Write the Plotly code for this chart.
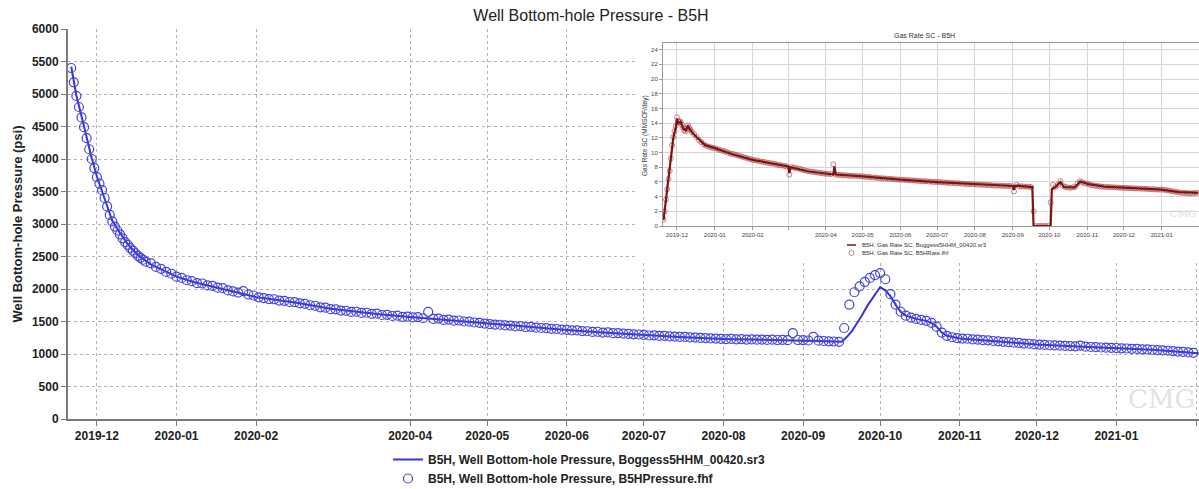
import pandas as pd
import plotly.graph_objects as go

# ---------------- DATA ----------------
# Observed well bottom-hole pressure (psi): daily from 2019-11-21, then every 2 days from 2019-12-22
bhp_obs_daily_start = "2019-11-21"
bhp_obs_daily = [5400, 5180, 4970, 4800, 4640, 4490, 4320, 4150, 4000, 3860,
                 3720, 3620, 3520, 3400, 3270, 3140, 3040, 2960, 2900, 2840,
                 2780, 2720, 2680, 2630, 2590, 2550, 2510, 2480, 2450, 2420]
bhp_obs_2d_start = "2019-12-22"
bhp_obs_2d = [
    2395, 2340, 2310, 2262, 2235,                                                      # Dec 2019
    2190, 2170, 2135, 2120, 2090, 2085, 2055, 2048, 2020, 2012, 1978, 1962, 1945, 1968, 1915, 1900,  # Jan
    1872, 1860, 1845, 1842, 1822, 1818, 1800, 1798, 1780, 1772, 1750, 1742, 1718, 1712,  # Feb
    1690, 1688, 1668, 1665, 1648, 1650, 1632, 1635, 1618, 1620, 1600, 1602, 1585, 1590, 1572, 1575,  # Mar
    1562, 1568, 1550, 1648, 1540, 1545, 1525, 1530, 1512, 1515, 1500, 1498, 1485, 1480, 1468,  # Apr
    1460, 1452, 1450, 1440, 1438, 1425, 1428, 1415, 1418, 1405, 1400, 1398, 1388, 1385, 1375,  # May
    1372, 1362, 1362, 1352, 1350, 1340, 1342, 1330, 1332, 1320, 1322, 1312, 1310, 1302, 1300,  # Jun
    1295, 1285, 1288, 1278, 1280, 1270, 1268, 1262, 1262, 1255, 1252, 1248, 1245, 1240, 1238, 1233,  # Jul
    1230, 1232, 1226, 1228, 1222, 1225, 1220, 1222, 1216, 1220, 1215, 1218, 1212, 1320, 1215,  # Aug
    1212, 1208, 1262, 1205, 1200, 1195, 1192, 1188, 1400, 1760, 1950, 2040, 2110, 2170, 2215,  # Sep
    2245, 2150, 1920, 1760, 1650, 1590, 1560, 1540, 1525, 1510, 1480, 1420, 1330, 1280, 1258, 1245,  # Oct
    1238, 1235, 1225, 1222, 1212, 1210, 1200, 1195, 1188, 1182, 1175, 1170, 1160, 1158, 1148,  # Nov
    1145, 1140, 1135, 1132, 1128, 1125, 1120, 1118, 1130, 1112, 1108, 1105, 1100, 1098, 1095,  # Dec
    1092, 1088, 1085, 1080, 1078, 1072, 1070, 1065, 1060, 1055, 1050, 1045, 1038, 1032, 1025, 1018,  # Jan 2021
]

# Simulated well bottom-hole pressure (psi)
bhp_sim_dates = [
    "2019-11-21", "2019-11-23", "2019-11-25", "2019-11-27", "2019-11-29", "2019-12-01",
    "2019-12-03", "2019-12-05", "2019-12-07", "2019-12-09", "2019-12-11", "2019-12-13",
    "2019-12-15", "2019-12-18", "2019-12-22", "2019-12-27", "2020-01-01", "2020-01-08",
    "2020-01-15", "2020-01-22", "2020-02-01", "2020-02-10", "2020-02-18", "2020-03-01",
    "2020-03-10", "2020-03-20", "2020-04-01", "2020-04-15", "2020-05-01", "2020-05-15",
    "2020-06-01", "2020-06-15", "2020-07-01", "2020-07-15", "2020-08-01", "2020-08-15",
    "2020-09-01", "2020-09-10", "2020-09-16", "2020-09-18", "2020-09-20", "2020-09-22",
    "2020-09-24", "2020-09-26", "2020-09-28", "2020-09-30", "2020-10-01", "2020-10-03",
    "2020-10-05", "2020-10-07", "2020-10-09", "2020-10-11", "2020-10-15", "2020-10-19",
    "2020-10-21", "2020-10-23", "2020-10-25", "2020-10-27", "2020-11-01", "2020-11-15",
    "2020-12-01", "2020-12-15", "2021-01-01", "2021-01-15", "2021-02-02"]
bhp_sim = [
    5420, 4980, 4660, 4330, 4010, 3730,
    3510, 3270, 3050, 2920, 2800, 2690,
    2600, 2490, 2380, 2280, 2190, 2105,
    2040, 1968, 1875, 1826, 1782, 1695,
    1650, 1610, 1570, 1525, 1462, 1422,
    1370, 1332, 1293, 1262, 1232, 1222,
    1212, 1198, 1188, 1260, 1350, 1470,
    1600, 1740, 1860, 1980, 2030, 1980,
    1890, 1760, 1650, 1590, 1540, 1510,
    1480, 1420, 1330, 1280, 1238, 1198,
    1145, 1120, 1090, 1065, 1012]

# Observed gas rate SC (MMSCF/day): daily from 2019-11-20, then every 2 days from 2019-12-15
gas_obs_daily_start = "2019-11-20"
gas_obs_daily = [0.9, 2.0, 3.6, 5.0, 6.4, 7.5, 9.2, 11.0, 12.1, 12.9, 13.6, 14.8,
                 14.3, 14.1, 14.2, 13.8, 13.4, 13.0, 12.9, 13.3, 13.7, 13.4, 13.1, 12.8]
gas_obs_2d_start = "2019-12-15"
gas_obs_2d = [
    12.5, 12.1, 11.7, 11.4, 11.1, 10.9, 10.8, 10.7, 10.6,                                   # Dec 2019
    10.55, 10.4, 10.3, 10.2, 10.1, 9.95, 9.85, 9.8, 9.7, 9.6, 9.5, 9.4, 9.3, 9.2, 9.1,        # Jan
    9.0, 8.95, 8.9, 8.8, 8.75, 8.7, 8.6, 8.55, 8.5, 8.45, 8.35, 8.3, 8.25, 8.15, 8.1,          # Feb
    7.0, 8.0, 7.95, 7.85, 7.8, 7.7, 7.6, 7.5, 7.45, 7.4, 7.35, 7.3, 7.25, 7.2, 7.15,           # Mar
    7.1, 7.1, 7.05, 8.4, 7.0, 6.95, 6.95, 6.9, 6.9, 6.85, 6.85, 6.85, 6.8, 6.8, 6.75,         # Apr
    6.75, 6.7, 6.7, 6.65, 6.6, 6.6, 6.55, 6.5, 6.5, 6.45, 6.45, 6.4, 6.4, 6.35, 6.35, 6.3,    # May
    6.3, 6.3, 6.25, 6.25, 6.2, 6.2, 6.15, 6.15, 6.1, 6.1, 6.1, 6.05, 6.05, 6.0, 6.0,          # Jun
    6.0, 5.95, 5.95, 5.9, 5.9, 5.85, 5.85, 5.8, 5.8, 5.8, 5.75, 5.75, 5.7, 5.7, 5.7,          # Jul
    5.68, 5.65, 5.65, 5.6, 5.6, 5.58, 5.55, 5.55, 5.5, 5.5, 5.5, 5.48, 5.45, 5.45, 5.45, 5.42,  # Aug
    4.7, 5.6, 5.4, 5.4, 5.38, 5.35, 5.35, 5.3, 2.0, 0.0, 0.0, 0.0, 0.0, 0.0, 0.0,             # Sep
    3.2, 5.6, 5.3, 5.6, 6.1, 5.5, 5.3, 5.25, 5.2, 5.25, 5.3, 5.8, 6.1, 5.95, 5.8,             # Oct
    5.75, 5.65, 5.55, 5.5, 5.45, 5.4, 5.35, 5.35, 5.3, 5.3, 5.28, 5.25, 5.25, 5.22, 5.2,      # Nov
    5.2, 5.18, 5.15, 5.15, 5.12, 5.1, 5.1, 5.08, 5.08, 5.05, 5.02, 5.0, 5.0, 4.98, 4.95, 4.95,  # Dec
    4.95, 4.9, 4.85, 4.8, 4.72, 4.65, 4.6, 4.55, 4.5, 4.5, 4.48, 4.45, 4.45, 4.48, 4.5,       # Jan 2021
]

# Simulated gas rate SC (MMSCF/day)
gas_sim_dates = [
    "2019-11-20", "2019-11-22", "2019-11-24", "2019-11-26", "2019-11-28", "2019-11-30",
    "2019-12-01", "2019-12-02", "2019-12-04", "2019-12-06", "2019-12-08", "2019-12-10",
    "2019-12-13", "2019-12-17", "2019-12-24", "2020-01-01", "2020-01-15", "2020-02-01",
    "2020-02-16", "2020-03-01", "2020-03-02", "2020-03-03", "2020-03-17", "2020-04-01",
    "2020-04-07", "2020-04-08", "2020-04-09", "2020-05-01", "2020-06-01", "2020-07-01",
    "2020-08-01", "2020-09-01", "2020-09-02", "2020-09-03", "2020-09-17", "2020-09-18",
    "2020-10-02", "2020-10-03", "2020-10-06", "2020-10-10", "2020-10-13", "2020-10-22",
    "2020-10-26", "2020-11-02", "2020-11-15", "2020-12-01", "2021-01-01", "2021-01-15",
    "2021-01-31"]
gas_sim = [
    0.8, 3.5, 6.3, 9.0, 12.0, 13.4,
    14.6, 14.0, 14.2, 13.3, 13.0, 13.6,
    12.8, 12.1, 11.0, 10.6, 9.8, 9.0,
    8.5, 8.1, 7.2, 8.0, 7.45, 7.1,
    7.0, 8.1, 7.0, 6.75, 6.3, 5.98,
    5.68, 5.45, 4.9, 5.5, 5.3, 0.0,
    0.0, 5.0, 5.3, 6.0, 5.3, 5.25,
    6.05, 5.7, 5.35, 5.2, 4.95, 4.6,
    4.5]

# Tick labels
main_tick_dates = ["2019-12-01", "2020-01-01", "2020-02-01", "2020-04-01", "2020-05-01",
                   "2020-06-01", "2020-07-01", "2020-08-01", "2020-09-01", "2020-10-01",
                   "2020-11-01", "2020-12-01", "2021-01-01", "2021-02-01"]
main_tick_text = ["2019-12", "2020-01", "2020-02", "2020-04", "2020-05", "2020-06", "2020-07",
                  "2020-08", "2020-09", "2020-10", "2020-11", "2020-12", "2021-01", ""]
inset_tick_dates = ["2019-12-01", "2020-01-01", "2020-02-01", "2020-03-01", "2020-04-01",
                    "2020-05-01", "2020-06-01", "2020-07-01", "2020-08-01", "2020-09-01",
                    "2020-10-01", "2020-11-01", "2020-12-01", "2021-01-01"]
inset_tick_text = ["2019-12", "2020-01", "2020-02", "", "2020-04", "2020-05", "2020-06",
                   "2020-07", "2020-08", "2020-09", "2020-10", "2020-11", "2020-12", "2021-01"]

# ---------------- BUILD ----------------
bhp_obs_dates = list(pd.date_range(bhp_obs_daily_start, periods=len(bhp_obs_daily), freq="D")) + \
    list(pd.date_range(bhp_obs_2d_start, periods=len(bhp_obs_2d), freq="2D"))
bhp_obs = bhp_obs_daily + bhp_obs_2d
gas_obs_dates = list(pd.date_range(gas_obs_daily_start, periods=len(gas_obs_daily), freq="D")) + \
    list(pd.date_range(gas_obs_2d_start, periods=len(gas_obs_2d), freq="2D"))
gas_obs = gas_obs_daily + gas_obs_2d

W, H = 1199, 489
ML, MR, MT, MB = 68, 0, 20, 70
PW = W - ML - MR
PH = H - MT - MB
FONT = "Arial, Liberation Sans, sans-serif"


def px_x(x):
    return (x - ML) / PW


def px_y(y):
    return (H - MB - y) / PH


BLUE_LINE = "#3535d2"
BLUE_MARK = "#4343da"
RED_LINE = "#7d1414"
RED_MARK = "rgba(175,70,70,0.85)"

fig = go.Figure()
fig.add_trace(go.Scatter(
    x=bhp_sim_dates, y=bhp_sim, mode="lines", line=dict(color=BLUE_LINE, width=2),
    name="B5H, Well Bottom-hole Pressure, Boggess5HHM_00420.sr3"))
fig.add_trace(go.Scatter(
    x=bhp_obs_dates, y=bhp_obs, mode="markers",
    marker=dict(symbol="circle-open", size=9, color=BLUE_MARK, line=dict(width=1.2)),
    name="B5H, Well Bottom-hole Pressure, B5HPressure.fhf"))
# white panel behind the inset chart
fig.add_trace(go.Scatter(x=[0.5], y=[0.5], xaxis="x2", yaxis="y2", mode="markers",
                         marker=dict(opacity=0), showlegend=False, hoverinfo="skip"))
# inset gas rate
fig.add_trace(go.Scatter(
    x=gas_obs_dates, y=gas_obs, xaxis="x3", yaxis="y3", mode="markers",
    marker=dict(symbol="circle-open", size=5, color=RED_MARK, line=dict(width=0.8)),
    showlegend=False, name="B5H, Gas Rate SC, B5HRate.fhf"))
fig.add_trace(go.Scatter(
    x=gas_sim_dates, y=gas_sim, xaxis="x3", yaxis="y3", mode="lines",
    line=dict(color=RED_LINE, width=2.2), showlegend=False,
    name="B5H, Gas Rate SC, Boggess5HHM_00420.sr3"))

main_x_range = ["2019-11-19 18:00", "2021-02-02 04:00"]
inset_x_range = ["2019-11-19 13:25", "2021-01-31 12:00"]

fig.update_layout(
    width=W, height=H, margin=dict(l=ML, r=MR, t=MT, b=MB),
    paper_bgcolor="white", plot_bgcolor="white",
    font=dict(family=FONT, color="#222222"),
    title=dict(text="Well Bottom-hole Pressure - B5H", x=591 / W, xref="container", xanchor="center",
               y=1 - 15 / H, yref="container", yanchor="middle",
               font=dict(size=16, color="#222222", family=FONT)),
    showlegend=True,
    legend=dict(x=px_x(388), xanchor="left", yref="container", y=1 - 445 / H, yanchor="top",
                font=dict(size=12, weight="bold", color="#222222"), bgcolor="rgba(0,0,0,0)",
                tracegroupgap=0, itemsizing="trace"),
    xaxis=dict(domain=[0, 1], anchor="y", type="date", range=main_x_range,
               tickmode="array", tickvals=main_tick_dates, ticktext=main_tick_text,
               showgrid=True, gridcolor="#b3b3b3", griddash="dot", gridwidth=1,
               showline=True, linecolor="#7a7a7a", linewidth=2,
               ticks="outside", ticklen=5, tickcolor="#7a7a7a",
               tickfont=dict(size=12, weight="bold", color="#222222"), zeroline=False),
    yaxis=dict(domain=[0, px_y(29)], anchor="x", range=[0, 6000], tick0=0, dtick=500,
               showgrid=True, gridcolor="#b3b3b3", griddash="dot", gridwidth=1,
               showline=True, linecolor="#7a7a7a", linewidth=2,
               ticks="outside", ticklen=5, tickcolor="#7a7a7a",
               tickfont=dict(size=12, weight="bold", color="#222222"), zeroline=False,
               title=dict(text="Well Bottom-hole Pressure (psi)", standoff=6,
                          font=dict(size=13, weight="bold", color="#222222"))),
    xaxis2=dict(domain=[px_x(637), 1], anchor="y2", range=[0, 1], visible=False),
    yaxis2=dict(domain=[px_y(263), px_y(25)], anchor="x2", range=[0, 1], visible=False),
    xaxis3=dict(domain=[px_x(663), 1], anchor="y3", type="date", range=inset_x_range,
                tickmode="array", tickvals=inset_tick_dates, ticktext=inset_tick_text,
                showgrid=True, gridcolor="#d6d6d6", gridwidth=1,
                showline=True, linecolor="#9a9a9a", linewidth=1, mirror=True,
                ticks="outside", ticklen=3, tickcolor="#9a9a9a",
                tickfont=dict(size=6, color="#444444"), zeroline=False),
    yaxis3=dict(domain=[px_y(226), px_y(43)], anchor="x3", range=[0, 24.9], tick0=0, dtick=2,
                showgrid=True, gridcolor="#d6d6d6", gridwidth=1,
                showline=True, linecolor="#9a9a9a", linewidth=1, mirror=True,
                ticks="outside", ticklen=3, tickcolor="#9a9a9a",
                tickfont=dict(size=6, color="#444444"), zeroline=False),
)

annotations = [
    dict(text="Gas Rate SC - B5H", x=px_x(924), y=px_y(35), xref="paper", yref="paper",
         showarrow=False, xanchor="center", yanchor="middle", font=dict(size=7, color="#333333")),
    dict(text="Gas Rate SC (MMSCF/day)", x=px_x(645), y=px_y(136), xref="paper", yref="paper",
         showarrow=False, textangle=-90, xanchor="center", yanchor="middle",
         font=dict(size=6.5, color="#333333")),
    dict(text="B5H, Gas Rate SC, Boggess5HHM_00420.sr3", x=px_x(860), y=px_y(245),
         xref="paper", yref="paper", showarrow=False, xanchor="left", yanchor="middle",
         font=dict(size=6, color="#333333")),
    dict(text="B5H, Gas Rate SC, B5HRate.fhf", x=px_x(860), y=px_y(253),
         xref="paper", yref="paper", showarrow=False, xanchor="left", yanchor="middle",
         font=dict(size=6, color="#333333")),
    dict(text="CMG", x=px_x(1197), y=px_y(399), xref="paper", yref="paper", showarrow=False,
         xanchor="right", yanchor="middle", font=dict(size=26, color="#e2e2e2", family="DejaVu Serif")),
    dict(text="CMG", x=px_x(1198), y=px_y(213), xref="paper", yref="paper", showarrow=False,
         xanchor="right", yanchor="middle", font=dict(size=10, color="#dddddd", family="DejaVu Serif")),
]
fig.update_layout(annotations=annotations)

shapes = [
    dict(type="line", xref="paper", yref="paper", x0=px_x(847), x1=px_x(856),
         y0=px_y(245), y1=px_y(245), line=dict(color=RED_LINE, width=1.5), layer="above"),
    dict(type="circle", xref="paper", yref="paper", x0=px_x(849), x1=px_x(854),
         y0=px_y(255.5), y1=px_y(250.5), line=dict(color=RED_MARK, width=0.8), layer="above"),
]
fig.update_layout(shapes=shapes)

fig.write_html("out.html")
